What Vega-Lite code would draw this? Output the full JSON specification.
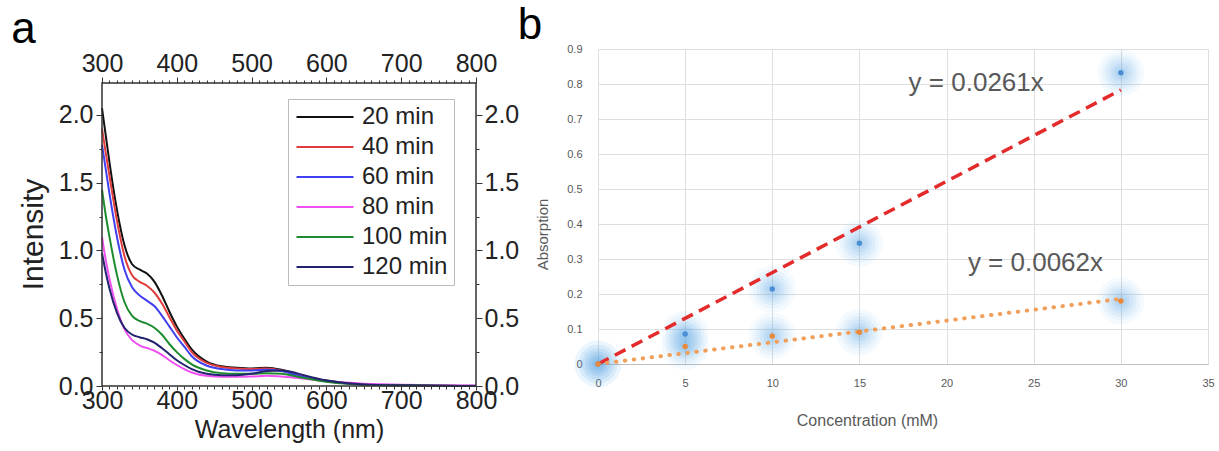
{
"$schema":"https://vega.github.io/schema/vega-lite/v6.json",
"padding":{"left":11,"top":3,"right":4,"bottom":2},
"spacing":-2,
"config":{"font":"Liberation Sans","axis":{"labelOverlap":false,"labelFlush":false}},
"resolve":{"scale":{"color":"independent"},"legend":{"color":"independent"}},
"datasets":{
"curves":[
{"s":"20 min","wl":300,"v":2.05},{"s":"20 min","wl":305,"v":1.85},{"s":"20 min","wl":310,"v":1.65},{"s":"20 min","wl":320,"v":1.30},{"s":"20 min","wl":330,"v":1.04},{"s":"20 min","wl":340,"v":0.90},{"s":"20 min","wl":350,"v":0.86},{"s":"20 min","wl":360,"v":0.83},{"s":"20 min","wl":370,"v":0.77},{"s":"20 min","wl":380,"v":0.67},{"s":"20 min","wl":390,"v":0.55},{"s":"20 min","wl":400,"v":0.44},{"s":"20 min","wl":410,"v":0.35},{"s":"20 min","wl":420,"v":0.27},{"s":"20 min","wl":440,"v":0.18},{"s":"20 min","wl":460,"v":0.145},{"s":"20 min","wl":480,"v":0.135},{"s":"20 min","wl":500,"v":0.13},{"s":"20 min","wl":520,"v":0.135},{"s":"20 min","wl":540,"v":0.12},{"s":"20 min","wl":560,"v":0.09},{"s":"20 min","wl":580,"v":0.06},{"s":"20 min","wl":600,"v":0.04},{"s":"20 min","wl":625,"v":0.022},{"s":"20 min","wl":650,"v":0.012},{"s":"20 min","wl":700,"v":0.005},{"s":"20 min","wl":750,"v":0.002},{"s":"20 min","wl":800,"v":0.0},
{"s":"40 min","wl":300,"v":1.90},{"s":"40 min","wl":305,"v":1.72},{"s":"40 min","wl":310,"v":1.55},{"s":"40 min","wl":320,"v":1.22},{"s":"40 min","wl":330,"v":0.96},{"s":"40 min","wl":340,"v":0.82},{"s":"40 min","wl":350,"v":0.77},{"s":"40 min","wl":360,"v":0.74},{"s":"40 min","wl":370,"v":0.69},{"s":"40 min","wl":380,"v":0.61},{"s":"40 min","wl":390,"v":0.51},{"s":"40 min","wl":400,"v":0.41},{"s":"40 min","wl":410,"v":0.33},{"s":"40 min","wl":420,"v":0.25},{"s":"40 min","wl":440,"v":0.17},{"s":"40 min","wl":460,"v":0.14},{"s":"40 min","wl":480,"v":0.13},{"s":"40 min","wl":500,"v":0.125},{"s":"40 min","wl":520,"v":0.13},{"s":"40 min","wl":540,"v":0.115},{"s":"40 min","wl":560,"v":0.085},{"s":"40 min","wl":580,"v":0.055},{"s":"40 min","wl":600,"v":0.035},{"s":"40 min","wl":625,"v":0.02},{"s":"40 min","wl":650,"v":0.011},{"s":"40 min","wl":700,"v":0.005},{"s":"40 min","wl":750,"v":0.002},{"s":"40 min","wl":800,"v":0.0},
{"s":"60 min","wl":300,"v":1.78},{"s":"60 min","wl":305,"v":1.60},{"s":"60 min","wl":310,"v":1.42},{"s":"60 min","wl":320,"v":1.10},{"s":"60 min","wl":330,"v":0.86},{"s":"60 min","wl":340,"v":0.73},{"s":"60 min","wl":350,"v":0.67},{"s":"60 min","wl":360,"v":0.63},{"s":"60 min","wl":370,"v":0.59},{"s":"60 min","wl":380,"v":0.52},{"s":"60 min","wl":390,"v":0.44},{"s":"60 min","wl":400,"v":0.36},{"s":"60 min","wl":410,"v":0.29},{"s":"60 min","wl":420,"v":0.22},{"s":"60 min","wl":440,"v":0.15},{"s":"60 min","wl":460,"v":0.125},{"s":"60 min","wl":480,"v":0.115},{"s":"60 min","wl":500,"v":0.115},{"s":"60 min","wl":520,"v":0.12},{"s":"60 min","wl":540,"v":0.11},{"s":"60 min","wl":560,"v":0.08},{"s":"60 min","wl":580,"v":0.055},{"s":"60 min","wl":600,"v":0.035},{"s":"60 min","wl":625,"v":0.02},{"s":"60 min","wl":650,"v":0.012},{"s":"60 min","wl":700,"v":0.006},{"s":"60 min","wl":750,"v":0.003},{"s":"60 min","wl":800,"v":0.001},
{"s":"80 min","wl":300,"v":1.10},{"s":"80 min","wl":305,"v":0.93},{"s":"80 min","wl":310,"v":0.79},{"s":"80 min","wl":320,"v":0.57},{"s":"80 min","wl":330,"v":0.42},{"s":"80 min","wl":340,"v":0.34},{"s":"80 min","wl":350,"v":0.30},{"s":"80 min","wl":360,"v":0.28},{"s":"80 min","wl":370,"v":0.26},{"s":"80 min","wl":380,"v":0.23},{"s":"80 min","wl":390,"v":0.19},{"s":"80 min","wl":400,"v":0.155},{"s":"80 min","wl":410,"v":0.125},{"s":"80 min","wl":420,"v":0.10},{"s":"80 min","wl":440,"v":0.075},{"s":"80 min","wl":460,"v":0.068},{"s":"80 min","wl":480,"v":0.068},{"s":"80 min","wl":500,"v":0.07},{"s":"80 min","wl":520,"v":0.075},{"s":"80 min","wl":540,"v":0.07},{"s":"80 min","wl":560,"v":0.06},{"s":"80 min","wl":580,"v":0.048},{"s":"80 min","wl":600,"v":0.036},{"s":"80 min","wl":625,"v":0.025},{"s":"80 min","wl":650,"v":0.017},{"s":"80 min","wl":700,"v":0.01},{"s":"80 min","wl":750,"v":0.005},{"s":"80 min","wl":800,"v":0.003},
{"s":"100 min","wl":300,"v":1.45},{"s":"100 min","wl":305,"v":1.26},{"s":"100 min","wl":310,"v":1.10},{"s":"100 min","wl":320,"v":0.82},{"s":"100 min","wl":330,"v":0.62},{"s":"100 min","wl":340,"v":0.52},{"s":"100 min","wl":350,"v":0.48},{"s":"100 min","wl":360,"v":0.46},{"s":"100 min","wl":370,"v":0.43},{"s":"100 min","wl":380,"v":0.38},{"s":"100 min","wl":390,"v":0.31},{"s":"100 min","wl":400,"v":0.25},{"s":"100 min","wl":410,"v":0.20},{"s":"100 min","wl":420,"v":0.16},{"s":"100 min","wl":440,"v":0.115},{"s":"100 min","wl":460,"v":0.095},{"s":"100 min","wl":480,"v":0.09},{"s":"100 min","wl":500,"v":0.09},{"s":"100 min","wl":520,"v":0.095},{"s":"100 min","wl":540,"v":0.09},{"s":"100 min","wl":560,"v":0.07},{"s":"100 min","wl":580,"v":0.05},{"s":"100 min","wl":600,"v":0.032},{"s":"100 min","wl":625,"v":0.018},{"s":"100 min","wl":650,"v":0.01},{"s":"100 min","wl":700,"v":0.005},{"s":"100 min","wl":750,"v":0.002},{"s":"100 min","wl":800,"v":0.0},
{"s":"120 min","wl":300,"v":0.98},{"s":"120 min","wl":305,"v":0.84},{"s":"120 min","wl":310,"v":0.72},{"s":"120 min","wl":320,"v":0.54},{"s":"120 min","wl":330,"v":0.43},{"s":"120 min","wl":340,"v":0.38},{"s":"120 min","wl":350,"v":0.36},{"s":"120 min","wl":360,"v":0.345},{"s":"120 min","wl":370,"v":0.32},{"s":"120 min","wl":380,"v":0.28},{"s":"120 min","wl":390,"v":0.235},{"s":"120 min","wl":400,"v":0.19},{"s":"120 min","wl":410,"v":0.155},{"s":"120 min","wl":420,"v":0.125},{"s":"120 min","wl":440,"v":0.09},{"s":"120 min","wl":460,"v":0.08},{"s":"120 min","wl":480,"v":0.08},{"s":"120 min","wl":500,"v":0.09},{"s":"120 min","wl":520,"v":0.11},{"s":"120 min","wl":540,"v":0.115},{"s":"120 min","wl":560,"v":0.095},{"s":"120 min","wl":580,"v":0.065},{"s":"120 min","wl":600,"v":0.04},{"s":"120 min","wl":625,"v":0.022},{"s":"120 min","wl":650,"v":0.012},{"s":"120 min","wl":700,"v":0.005},{"s":"120 min","wl":750,"v":0.002},{"s":"120 min","wl":800,"v":0.0}
],
"dummy":[{"wl":300,"v":0}],
"frame":[{"x1":300,"x2":800,"y1":0,"y2":2.236}],
"pts":[
{"s":"A","c":0,"a":0},{"s":"A","c":5,"a":0.086},{"s":"A","c":10,"a":0.214},{"s":"A","c":15,"a":0.345},{"s":"A","c":30,"a":0.832},
{"s":"B","c":0,"a":0},{"s":"B","c":5,"a":0.05},{"s":"B","c":10,"a":0.08},{"s":"B","c":15,"a":0.091},{"s":"B","c":30,"a":0.18}
],
"trendA":[{"c":0,"a":0},{"c":30,"a":0.783}],
"trendB":[{"c":0,"a":0},{"c":30,"a":0.186}],
"eq":[{"c":21.7,"a":0.803,"t":"y = 0.0261x"},{"c":25.1,"a":0.289,"t":"y = 0.0062x"}]
},
"hconcat":[
{
"width":374,"height":337,
"title":{"text":"a","anchor":"start","dx":-7,"fontSize":44,"fontWeight":"normal","color":"#000","offset":-2.5},
"view":{"stroke":null},
"layer":[
{"data":{"name":"curves"},
"mark":{"type":"line","interpolate":"monotone","strokeWidth":2},
"encoding":{
"x":{"field":"wl","type":"quantitative","scale":{"domain":[300,800],"nice":false,"zero":false},
"axis":{"orient":"bottom","values":[300,400,500,600,700,800],"title":"Wavelength (nm)","labelFontSize":25,"titleFontSize":25,"titleFontWeight":"normal","tickSize":4,"labelPadding":-1.5,"titlePadding":4,"domain":false,"grid":false,"tickColor":"#333","labelColor":"#222","titleColor":"#222"}},
"y":{"field":"v","type":"quantitative","scale":{"domain":[0,2.487],"nice":false},
"axis":{"orient":"left","values":[0,0.5,1,1.5,2],"format":".1f","title":"Intensity","titleFontSize":30,"titleFontWeight":"normal","labelFontSize":25,"tickSize":6,"labelPadding":3,"titlePadding":10,"titleY":185,"domain":false,"grid":false,"tickColor":"#333","labelColor":"#222","titleColor":"#222"}},
"color":{"field":"s","type":"nominal","sort":null,
"scale":{"domain":["20 min","40 min","60 min","80 min","100 min","120 min"],"range":["#111111","#e03c3c","#4040f0","#f050f0","#1e8c2e","#22226e"]},
"legend":{"orient":"none","legendX":186,"legendY":50,"title":null,"symbolType":"M-1,0H5","symbolSize":361,"symbolStrokeWidth":2,"labelFontSize":24,"labelColor":"#222","strokeColor":"#bbbbbb","fillColor":"#ffffff","padding":6,"rowPadding":6,"labelOffset":44,"labelLimit":300}}
}},
{"data":{"name":"frame"},"mark":{"type":"rect","fillOpacity":0,"stroke":"#333","strokeWidth":1.5},
"encoding":{"x":{"field":"x1","type":"quantitative","axis":null},"x2":{"field":"x2"},"y":{"field":"y1","type":"quantitative","axis":null},"y2":{"field":"y2"}}},
{"data":{"name":"dummy"},"mark":{"type":"point","opacity":0},
"encoding":{
"x":{"field":"wl","type":"quantitative","axis":{"orient":"top","offset":-34,"values":[300,400,500,600,700,800],"title":null,"labelFontSize":25,"tickSize":6,"labelPadding":1,"domain":false,"grid":false,"tickColor":"#333","labelColor":"#222"}},
"y":{"field":"v","type":"quantitative","axis":{"orient":"right","values":[0,0.5,1,1.5,2],"format":".1f","title":null,"labelFontSize":25,"tickSize":6,"labelPadding":2,"domain":false,"grid":false,"tickColor":"#333","labelColor":"#222"}}
}},
{"data":{"name":"dummy"},"mark":{"type":"point","opacity":0},
"encoding":{
"x":{"field":"wl","type":"quantitative","axis":{"orient":"bottom","values":[310,320,330,340,350,360,370,380,390,410,420,430,440,450,460,470,480,490,510,520,530,540,550,560,570,580,590,610,620,630,640,650,660,670,680,690,710,720,730,740,750,760,770,780,790],"title":null,"labels":false,"tickSize":3,"domain":false,"grid":false,"tickColor":"#333"}},
"y":{"field":"v","type":"quantitative","axis":{"orient":"left","values":[0.25,0.75,1.25,1.75],"title":null,"labels":false,"tickSize":3,"domain":false,"grid":false,"tickColor":"#333"}}
}},
{"data":{"name":"dummy"},"mark":{"type":"point","opacity":0},
"encoding":{
"x":{"field":"wl","type":"quantitative","axis":{"orient":"top","offset":-34,"values":[310,320,330,340,350,360,370,380,390,410,420,430,440,450,460,470,480,490,510,520,530,540,550,560,570,580,590,610,620,630,640,650,660,670,680,690,710,720,730,740,750,760,770,780,790],"title":null,"labels":false,"tickSize":3,"domain":false,"grid":false,"tickColor":"#333"}},
"y":{"field":"v","type":"quantitative","axis":{"orient":"right","values":[0.25,0.75,1.25,1.75],"title":null,"labels":false,"tickSize":3,"domain":false,"grid":false,"tickColor":"#333"}}
}}
],
"resolve":{"axis":{"x":"independent","y":"independent"}}
},
{
"width":610,"height":315,
"title":{"text":"b","anchor":"start","dx":-18,"fontSize":44,"fontWeight":"normal","color":"#000","offset":-4.5},
"view":{"stroke":null},
"encoding":{
"x":{"field":"c","type":"quantitative","scale":{"domain":[0,35],"nice":false},
"axis":{"values":[0,5,10,15,20,25,30,35],"labelOverlap":false,"title":"Concentration (mM)","titleX":269,"titleFontSize":16,"titleFontWeight":"normal","titleColor":"#595959","labelFontSize":11,"labelColor":"#595959","labelPadding":13,"titlePadding":24,"ticks":false,"domain":true,"domainColor":"#bfbfbf","grid":true,"gridColor":"#dedede"}},
"y":{"field":"a","type":"quantitative","scale":{"domain":[0,0.9],"nice":false},
"axis":{"values":[0,0.1,0.2,0.3,0.4,0.5,0.6,0.7,0.8,0.9],"labelOverlap":false,"format":"~g","title":"Absorption","titleY":185,"titleFontSize":15,"titleFontWeight":"normal","titleColor":"#595959","labelFontSize":11,"labelColor":"#595959","labelPadding":16,"titlePadding":16,"ticks":false,"domain":false,"grid":true,"gridColor":"#dedede"}}
},
"layer":[
{"data":{"name":"pts"},"mark":{"type":"circle","color":"#5aa5e6","opacity":0.06,"size":2200}},
{"data":{"name":"pts"},"mark":{"type":"circle","color":"#5aa5e6","opacity":0.07,"size":1500}},
{"data":{"name":"pts"},"mark":{"type":"circle","color":"#5aa5e6","opacity":0.08,"size":1000}},
{"data":{"name":"pts"},"mark":{"type":"circle","color":"#5aa5e6","opacity":0.09,"size":620}},
{"data":{"name":"pts"},"mark":{"type":"circle","color":"#5aa5e6","opacity":0.1,"size":340}},
{"data":{"name":"pts"},"mark":{"type":"circle","color":"#5aa5e6","opacity":0.12,"size":150}},
{"data":{"name":"trendA"},"mark":{"type":"line","color":"#e32b2b","strokeWidth":3.5,"strokeDash":[12,7]}},
{"data":{"name":"trendB"},"mark":{"type":"line","color":"#f0a05a","strokeWidth":4,"strokeDash":[0.5,8.5],"strokeCap":"round"}},
{"data":{"name":"pts"},"mark":{"type":"circle","opacity":1,"size":30},
"encoding":{"color":{"field":"s","type":"nominal","scale":{"domain":["A","B"],"range":["#4a8fd4","#e8883a"]},"legend":null}}},
{"data":{"name":"eq"},"mark":{"type":"text","fontSize":26,"color":"#595959","align":"center","baseline":"middle"},
"encoding":{"text":{"field":"t"}}}
]
}
]
}
